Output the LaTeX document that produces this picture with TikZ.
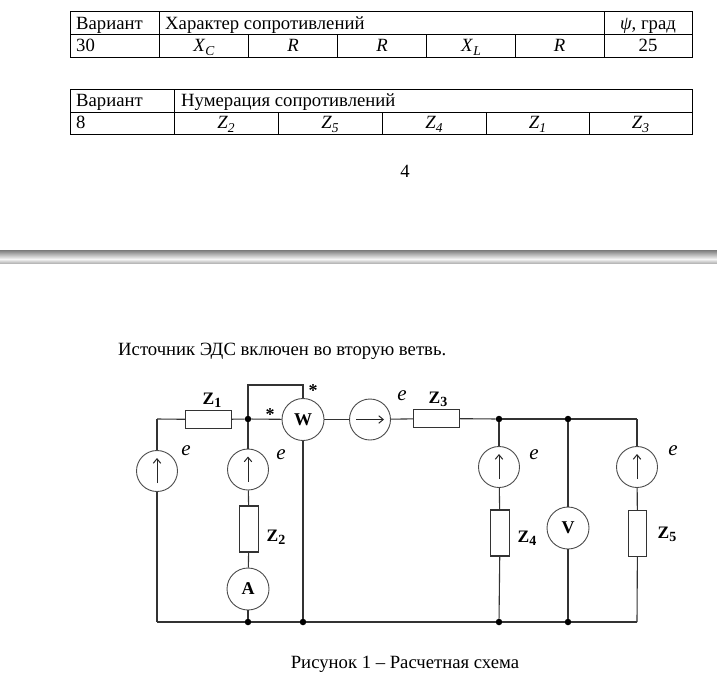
\documentclass[tikz,border=0pt]{standalone}
\usepackage{fontspec}
\setmainfont{Liberation Serif}
\usetikzlibrary{arrows.meta}
\newcommand\Zsub[1]{Z\raisebox{-3pt}{\fontsize{14}{14}\selectfont #1}}
\newcommand\Vsub[2]{\textit{#1}\raisebox{-4pt}{\fontsize{13.5}{13.5}\selectfont\textit{#2}}}
\begin{document}
\begin{tikzpicture}[x=1pt,y=-1pt,
  wire/.style={draw=black!80, line width=1.1pt},
  tline/.style={draw=black, line width=1pt},
  txt/.style={inner sep=0pt, anchor=base west, font=\fontsize{18.7}{21}\selectfont},
  ctxt/.style={inner sep=0pt, anchor=base, font=\fontsize{18.7}{21}\selectfont},
  meter/.style={circle, draw=black!70, line width=0.9pt, minimum size=42pt, inner sep=0pt, font=\fontsize{18}{18}\selectfont\bfseries},
  src/.style={circle, draw=black!70, line width=0.9pt, minimum size=41pt, inner sep=0pt},
  res/.style={rectangle, draw=black!80, line width=1.1pt, inner sep=0pt},
  hres/.style={res, minimum width=46pt, minimum height=18.5pt},
  vres/.style={res, minimum width=18.5pt, minimum height=46pt},
  zlab/.style={inner sep=0pt, font=\fontsize{17.5}{17.5}\selectfont\bfseries},
  elab/.style={inner sep=0pt, font=\fontsize{21}{21}\selectfont\itshape},
  star/.style={inner sep=0pt, font=\fontsize{18}{18}\selectfont\bfseries},
  dot/.style={circle, fill=black, inner sep=0pt, minimum size=6.5pt},
  emf/.style={-{Straight Barb[length=4.5pt,width=7.5pt]}, line width=1pt, draw=black!85}
]
\useasboundingbox (0,0) rectangle (717,681);
\fill[white] (0,0) rectangle (717,681);

% ---------- Table 1 ----------
\draw[tline] (70.7,11.7) rectangle (692,57);
\draw[tline] (70.7,34) -- (692,34);
\draw[tline] (159,11.7) -- (159,57);
\draw[tline] (604,11.7) -- (604,57);
\foreach \xx in {248.7,337.5,426.5,515} \draw[tline] (\xx,34) -- (\xx,57);
\node[txt] (t1a) at (76,29) {Вариант};
\node[txt] (t1b) at (165,29) {Характер сопротивлений};
\node[ctxt] (t1c) at (648,29.5) {\textit{ψ}, град};
\node[txt] (t1d) at (76,51) {30};
\node[ctxt] (t1e) at (204,51) {\Vsub{X}{C}};
\node[ctxt] (t1f) at (293,51) {\textit{R}};
\node[ctxt] (t1g) at (382,51) {\textit{R}};
\node[ctxt] (t1h) at (471,51) {\Vsub{X}{L}};
\node[ctxt] (t1i) at (559.5,51) {\textit{R}};
\node[ctxt] (t1j) at (648,51) {25};

% ---------- Table 2 ----------
\draw[tline] (70.7,89) rectangle (692,134);
\draw[tline] (70.7,112) -- (692,112);
\draw[tline] (174,89) -- (174,134);
\foreach \xx in {278,382,486,589} \draw[tline] (\xx,112) -- (\xx,134);
\node[txt] (t2a) at (76,106.7) {Вариант};
\node[txt] (t2b) at (181,106.7) {Нумерация сопротивлений};
\node[txt] (t2c) at (76,128) {8};
\node[ctxt] (t2d) at (226,128) {\Vsub{Z}{2}};
\node[ctxt] (t2e) at (330,128) {\Vsub{Z}{5}};
\node[ctxt] (t2f) at (434,128) {\Vsub{Z}{4}};
\node[ctxt] (t2g) at (537.5,128) {\Vsub{Z}{1}};
\node[ctxt] (t2h) at (640.5,128) {\Vsub{Z}{3}};

% page number
\node[ctxt] (pnum) at (405,177) {4};

% page break band
\shade[top color=black!52, bottom color=black!4] (0,250) rectangle (717,259);
\shade[top color=black!4, bottom color=black!28] (0,259) rectangle (717,263);

% text
\node[txt] (para) at (118,355) {Источник ЭДС включен во вторую ветвь.};
\node[ctxt] (cap) at (405,668) {Рисунок 1 – Расчетная схема};

% ---------- Circuit ----------
\coordinate (tl) at (157,419);
\coordinate (bl) at (157,622);
\coordinate (tr) at (637,419);
\coordinate (br) at (637,622);
\coordinate (vc) at (303,385);
\node[dot] (j1) at (248,419) {};
\node[dot] (j4) at (499,419) {};
\node[dot] (jv) at (568,419) {};
\node[dot] (b2) at (248,622) {};
\node[dot] (b3) at (303,622) {};
\node[dot] (b4) at (499,622) {};
\node[dot] (bv) at (568,622) {};

\node[hres] (z1) at (208.5,419.5) {};
\node[src] (e1) at (157,471) {};
\node[src] (e2) at (248,469.5) {};
\node[vres] (z2) at (249,529) {};
\node[meter] (amm) at (248,589) {A};
\node[meter] (W) at (303,419.5) {W};
\node[src] (e3) at (370,419.5) {};
\node[hres] (z3) at (436.5,418.5) {};
\node[src] (e4) at (499,467) {};
\node[vres] (z4) at (500,533) {};
\node[meter] (V) at (568,528) {V};
\node[src] (e5) at (637,467) {};
\node[vres] (z5) at (637.5,533.5) {};

\draw[wire] (tl) -- (z1);
\draw[wire] (z1) -- (j1);
\draw[wire] (tl) -- (e1);
\draw[wire] (e1) -- (bl);
\draw[wire] (j1) -- (e2);
\draw[wire] (e2) -- (z2);
\draw[wire] (z2) -- (amm);
\draw[wire] (amm) -- (b2);
\draw[wire] (j1) |- (vc) -- (W);
\draw[wire] (j1) -- (W);
\draw[wire] (W) -- (b3);
\draw[wire] (W) -- (e3);
\draw[wire] (e3) -- (z3);
\draw[wire] (z3) -- (j4);
\draw[wire] (j4) -- (jv);
\draw[wire] (jv) -- (tr);
\draw[wire] (j4) -- (e4);
\draw[wire] (e4) -- (z4);
\draw[wire] (z4) -- (b4);
\draw[wire] (jv) -- (V);
\draw[wire] (V) -- (bv);
\draw[wire] (tr) -- (e5);
\draw[wire] (e5) -- (z5);
\draw[wire] (z5) -- (br);
\draw[wire] (bl) -- (b2) -- (b3) -- (b4) -- (bv) -- (br);

% EMF arrows
\draw[emf] (e1.center) +(0,12) -- +(0,-13);
\draw[emf] (e2.center) +(0,12) -- +(0,-13);
\draw[emf] (e3.center) +(-14,0) -- +(14,0);
\draw[emf] (e4.center) +(0,12) -- +(0,-13);
\draw[emf] (e5.center) +(0,12) -- +(0,-13);

% labels
\node[zlab] (lz1) at (212,400) {\Zsub{1}};
\node[zlab] (lz2) at (276,537) {\Zsub{2}};
\node[zlab] (lz3) at (438,399) {\Zsub{3}};
\node[zlab] (lz4) at (527,538) {\Zsub{4}};
\node[zlab] (lz5) at (667,534) {\Zsub{5}};
\node[elab] (le1) at (186,451) {e};
\node[elab] (le2) at (281,455) {e};
\node[elab] (le3) at (402,396) {e};
\node[elab] (le4) at (534,455) {e};
\node[elab] (le5) at (673,451) {e};
\node[star] (s1) at (313,391) {*};
\node[star] (s2) at (270,415) {*};
\end{tikzpicture}
\end{document}
